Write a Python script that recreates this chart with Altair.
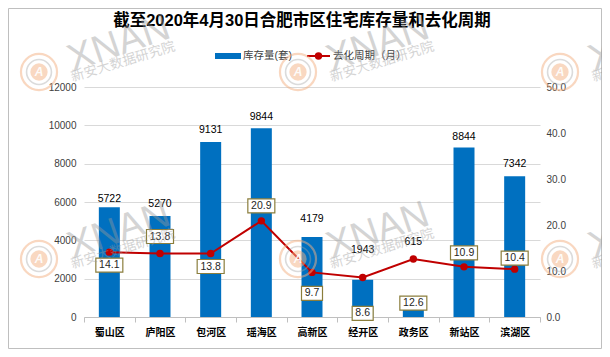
import altair as alt
import pandas as pd

# ---------------- data ----------------
districts = ["蜀山区", "庐阳区", "包河区", "瑶海区", "高新区", "经开区", "政务区", "新站区", "滨湖区"]
stock = [5722, 5270, 9131, 9844, 4179, 1943, 615, 8844, 7342]
cycle = [14.1, 13.8, 13.8, 20.9, 9.7, 8.6, 12.6, 10.9, 10.4]
stock_ticks = [0, 2000, 4000, 6000, 8000, 10000, 12000]
cycle_ticks = [0, 10, 20, 30, 40, 50]
title_text = "截至2020年4月30日合肥市区住宅库存量和去化周期"
legend_names = ["库存量(套)", "去化周期（月）"]
watermark_word = "XNAN"
watermark_sub = "新安大数据研究院"

# ---------------- style / annotation placement (pixels) ----------------
stock_label_lift = [8, 12, 12, 11, 18, 30, 63, 10, 12]
cycle_label_shift = [13, -17, 13, -15, 21, 36, 44, -14, -11]
wm_cols = [-45, 214, 476]
wm_rows = [-15, 172]

W, H = 456, 230
PAD = {"left": 76, "top": 79, "right": 62, "bottom": 32}
FONT = "Liberation Sans, Noto Sans CJK SC"
BLUE = "#0070C0"
RED = "#C00000"
BOX = "#8B7E3C"

df = pd.DataFrame({"district": districts, "stock": stock, "cycle": cycle})

x = alt.X(
    "district:N",
    sort=districts,
    title=None,
    scale=alt.Scale(paddingInner=0, paddingOuter=0),
    axis=alt.Axis(
        labelAngle=0, labelFontSize=10, labelFontWeight="bold", labelColor="#000000",
        domainColor="#bfbfbf", tickColor="#bfbfbf", tickSize=5, tickBand="extent",
        labelPadding=5,
    ),
)

y_left = alt.Y(
    "stock:Q",
    scale=alt.Scale(domain=[0, 12000], nice=False),
    axis=alt.Axis(
        values=stock_ticks, title=None, grid=True, gridColor="#d9d9d9", domain=False,
        ticks=False, labelPadding=8, labelFontSize=10, labelColor="#404040", format="d",
    ),
)

y_right = alt.Y(
    "cycle:Q",
    scale=alt.Scale(domain=[0, 50], nice=False),
    axis=alt.Axis(
        orient="right", values=cycle_ticks, title=None, grid=False, domain=False,
        ticks=False, labelPadding=6, labelFontSize=10, labelColor="#404040", format=".1f",
    ),
)

base = alt.Chart(df)

bars = base.mark_bar(size=21, color=BLUE).encode(x=x, y=y_left)
bar_layers = [bars]
for d, lift in zip(districts, stock_label_lift):
    bar_layers.append(
        base.transform_filter(alt.datum.district == d)
        .mark_text(dy=-lift, baseline="middle", fontSize=10.5, color="#000000", font=FONT)
        .encode(x=x, y=y_left, text=alt.Text("stock:Q", format="d"))
    )
left_layer = alt.layer(*bar_layers)

line = base.mark_line(color=RED, strokeWidth=2).encode(x=x, y=y_right)
pts = base.mark_circle(size=55, color=RED, opacity=1).encode(x=x, y=y_right)
line_layers = [line, pts]
for d, c, sh in zip(districts, cycle, cycle_label_shift):
    lab = f"{c:.1f}"
    wide = len(lab) >= 4
    half_h = 7.0
    half_w = 13.5 if wide else 10.5
    r = half_h / half_w
    shape = f"M-1,{-r:.4f}L1,{-r:.4f}L1,{r:.4f}L-1,{r:.4f}Z"
    line_layers.append(
        base.transform_filter(alt.datum.district == d)
        .mark_point(shape=shape, size=(2 * half_w) ** 2, filled=True, fill="white",
                    stroke=BOX, strokeWidth=1.2, opacity=1, yOffset=sh)
        .encode(x=x, y=y_right)
    )
    line_layers.append(
        base.transform_filter(alt.datum.district == d)
        .mark_text(dy=sh, baseline="middle", fontSize=10.5, color="#262626", font=FONT)
        .encode(x=x, y=y_right, text=alt.Text("cycle:Q", format=".1f"))
    )
right_layer = alt.layer(*line_layers)

one = alt.Chart(pd.DataFrame({"k": [0]}))
frame = one.mark_rect(fillOpacity=0, stroke="#bfbfbf", strokeWidth=1).encode(
    x=alt.value(-PAD["left"] + 0.5), x2=alt.value(W + PAD["right"] - 0.5),
    y=alt.value(-PAD["top"] + 0.5), y2=alt.value(H + PAD["bottom"] - 0.5),
)
title = one.mark_text(fontSize=16.5, fontWeight="bold", font=FONT, align="center",
                      baseline="middle", color="#000000").encode(
    x=alt.value(218), y=alt.value(-66), text=alt.value(title_text))
leg_rect = one.mark_rect(color=BLUE).encode(
    x=alt.value(131), x2=alt.value(157), y=alt.value(-34), y2=alt.value(-28))
leg_t1 = one.mark_text(fontSize=10.5, font=FONT, align="left", baseline="middle",
                       color="#404040").encode(
    x=alt.value(159), y=alt.value(-31), text=alt.value(legend_names[0]))
leg_line = one.mark_rule(color=RED, strokeWidth=2).encode(
    x=alt.value(223), x2=alt.value(246), y=alt.value(-31))
leg_dot = one.mark_circle(color=RED, size=55, opacity=1).encode(
    x=alt.value(234.5), y=alt.value(-31))
leg_t2 = one.mark_text(fontSize=10.5, font=FONT, align="left", baseline="middle",
                       color="#404040").encode(
    x=alt.value(249), y=alt.value(-31), text=alt.value(legend_names[1]))

# ---------------- watermarks (decoration) ----------------
wm = pd.DataFrame([{"px": cx, "py": cy} for cy in wm_rows for cx in wm_cols])
wmb = alt.Chart(wm)
px = alt.X("px:Q", scale=None)
py = alt.Y("py:Q", scale=None)
wm_ring = wmb.mark_point(shape="circle", size=1300, filled=False, stroke="#F4B183",
                         strokeWidth=2.2, opacity=0.5).encode(x=px, y=py)
wm_ring2 = wmb.mark_point(shape="circle", size=620, filled=False, stroke="#A6A6A6",
                          strokeWidth=1.6, opacity=0.4).encode(x=px, y=py)
wm_core = wmb.mark_point(shape="circle", size=300, filled=True, fill="#F4B183",
                         strokeWidth=0, opacity=0.5).encode(x=px, y=py)
wm_a = wmb.mark_text(text="A", fontSize=12, fontStyle="italic", fontWeight="bold",
                     color="white", font=FONT, align="center", baseline="middle",
                     opacity=0.9).encode(x=px, y=py)
wm_word = wmb.mark_text(text=watermark_word, fontSize=38, font="Liberation Sans",
                        color="#9a9a9a", opacity=0.42, angle=341, align="center",
                        baseline="middle", xOffset=80, yOffset=-28).encode(x=px, y=py)
wm_subt = wmb.mark_text(text=watermark_sub, fontSize=13.5, font="Noto Sans CJK SC",
                        color="#9a9a9a", opacity=0.42, angle=343, align="center",
                        baseline="middle", xOffset=84, yOffset=-10).encode(x=px, y=py)

chart = (
    alt.layer(frame, left_layer, right_layer, title, leg_rect, leg_t1, leg_line, leg_dot,
              leg_t2, wm_ring, wm_ring2, wm_core, wm_a, wm_word, wm_subt)
    .resolve_scale(y="independent")
    .properties(width=W, height=H, padding=PAD, autosize=alt.AutoSizeParams(type="none"),
                background="white")
    .configure_view(stroke=None)
    .configure_axis(labelFont=FONT)
)

chart.save("out.html", embed_options={"renderer": "svg", "actions": False})
